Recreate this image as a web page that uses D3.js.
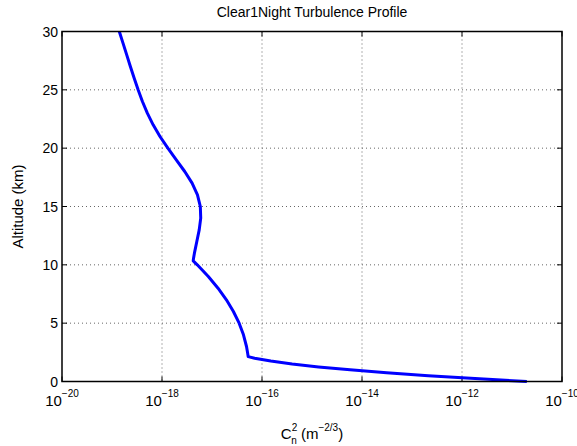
<!DOCTYPE html>
<html>
<head>
<meta charset="utf-8">
<script src="https://cdn.jsdelivr.net/npm/d3@7"></script>
<style>
  body { margin: 0; background: #fff; }
  text { font-family: "Liberation Sans", Arial, Helvetica, sans-serif; fill: #000; }
</style>
</head>
<body>
<svg id="chart" width="577" height="446"></svg>
<script>

// altitude (km) and Cn2 (m^-2/3)
var altitude = [0, 0.25, 0.5, 0.75, 1, 1.25, 1.5, 1.75, 2, 2.13, 2.5, 3, 4, 5, 6, 7, 8, 9, 10, 10.34,
    10.5, 11, 12, 13, 14, 15, 16, 17, 18, 19, 20, 21, 22, 23, 24, 25, 26, 27, 28, 29, 30];
var cn2 = [1.98e-11, 1.82e-12, 2.12e-13, 3.11e-14, 5.77e-15, 1.35e-15, 4.01e-16, 1.50e-16, 7.12e-17, 5.30e-17,
    5.13e-17, 4.90e-17, 4.26e-17, 3.49e-17, 2.68e-17, 1.94e-17, 1.32e-17, 8.44e-18, 5.07e-18, 4.21e-18,
    4.25e-18, 4.45e-18, 4.97e-18, 5.55e-18, 5.95e-18, 5.84e-18, 5.12e-18, 4.00e-18, 2.85e-18, 1.93e-18,
    1.31e-18, 9.11e-19, 6.65e-19, 5.09e-19, 4.06e-19, 3.33e-19, 2.78e-19, 2.33e-19, 1.97e-19, 1.66e-19, 1.40e-19];

var xTicks = [1e-20, 1e-18, 1e-16, 1e-14, 1e-12, 1e-10];
var yTicks = [0, 5, 10, 15, 20, 25, 30];

var plotLeft = 62, plotRight = 562, plotTop = 31.5, plotBottom = 381.5;

var svg = d3.select("#chart");

var x = d3.scaleLog()
    .domain([1e-20, 1e-10])
    .range([plotLeft, plotRight]);

var y = d3.scaleLinear()
    .domain([0, 30])
    .range([plotBottom, plotTop]);

// grid
svg.append("g")
    .selectAll("line")
    .data(xTicks.slice(1, -1))
    .enter().append("line")
    .attr("x1", function(d){ return x(d); })
    .attr("x2", function(d){ return x(d); })
    .attr("y1", plotTop)
    .attr("y2", plotBottom)
    .attr("stroke", "#666")
    .attr("stroke-width", 1)
    .attr("stroke-dasharray", "1,3");

svg.append("g")
    .selectAll("line")
    .data(yTicks.slice(1, -1))
    .enter().append("line")
    .attr("x1", plotLeft)
    .attr("x2", plotRight)
    .attr("y1", function(d){ return y(d); })
    .attr("y2", function(d){ return y(d); })
    .attr("stroke", "#666")
    .attr("stroke-width", 1)
    .attr("stroke-dasharray", "1,3");

// inward ticks on all four sides
var tickLen = 5;
var xt = svg.append("g").selectAll("g").data(xTicks).enter();
xt.append("line")
    .attr("x1", function(d){ return x(d); }).attr("x2", function(d){ return x(d); })
    .attr("y1", plotBottom).attr("y2", plotBottom - tickLen)
    .attr("stroke", "#000");
xt.append("line")
    .attr("x1", function(d){ return x(d); }).attr("x2", function(d){ return x(d); })
    .attr("y1", plotTop).attr("y2", plotTop + tickLen)
    .attr("stroke", "#000");

var yt = svg.append("g").selectAll("g").data(yTicks).enter();
yt.append("line")
    .attr("x1", plotLeft).attr("x2", plotLeft + tickLen)
    .attr("y1", function(d){ return y(d); }).attr("y2", function(d){ return y(d); })
    .attr("stroke", "#000");
yt.append("line")
    .attr("x1", plotRight).attr("x2", plotRight - tickLen)
    .attr("y1", function(d){ return y(d); }).attr("y2", function(d){ return y(d); })
    .attr("stroke", "#000");

// profile line
var data = altitude.map(function(h, i){ return {h: h, c: cn2[i]}; });

var line = d3.line()
    .x(function(d){ return x(d.c); })
    .y(function(d){ return y(d.h); });

svg.append("path")
    .datum(data)
    .attr("d", line)
    .attr("fill", "none")
    .attr("stroke", "#0000ff")
    .attr("stroke-width", 3)
    .attr("stroke-linejoin", "round");

// box
svg.append("rect")
    .attr("x", plotLeft)
    .attr("y", plotTop)
    .attr("width", plotRight - plotLeft)
    .attr("height", plotBottom - plotTop)
    .attr("fill", "none")
    .attr("stroke", "#000")
    .attr("stroke-width", 1.5);

// tick labels
svg.append("g")
    .selectAll("text")
    .data(yTicks)
    .enter().append("text")
    .attr("x", plotLeft - 4)
    .attr("y", function(d){ return y(d) + 5; })
    .attr("text-anchor", "end")
    .style("font-size", "14px")
    .text(function(d){ return d; });

var xl = svg.append("g")
    .selectAll("text")
    .data(xTicks)
    .enter().append("text")
    .attr("x", function(d){ return x(d); })
    .attr("y", 406)
    .attr("text-anchor", "middle")
    .style("font-size", "15px");
xl.append("tspan").text("10");
xl.append("tspan")
    .attr("dy", -9)
    .style("font-size", "10px")
    .text(function(d){ return "\u2212" + Math.round(-Math.log10(d)); });

// title and axis labels
svg.append("text")
    .attr("x", (plotLeft + plotRight) / 2)
    .attr("y", 17)
    .attr("text-anchor", "middle")
    .style("font-size", "14px")
    .text("Clear1Night Turbulence Profile");

svg.append("text")
    .attr("transform", "translate(23," + ((plotTop + plotBottom) / 2) + ") rotate(-90)")
    .attr("text-anchor", "middle")
    .style("font-size", "15px")
    .text("Altitude (km)");

var xlab = svg.append("text")
    .attr("x", (plotLeft + plotRight) / 2)
    .attr("y", 439)
    .attr("text-anchor", "middle")
    .style("font-size", "15px");
xlab.append("tspan").text("C");
xlab.append("tspan").attr("dy", -8).style("font-size", "10px").text("2");
xlab.append("tspan").attr("dx", -6).attr("dy", 13).style("font-size", "10px").text("n");
xlab.append("tspan").attr("dy", -5).text(" (m");
xlab.append("tspan").attr("dy", -8).style("font-size", "10px").text("\u22122/3");
xlab.append("tspan").attr("dy", 8).text(")");

</script>
</body>
</html>
